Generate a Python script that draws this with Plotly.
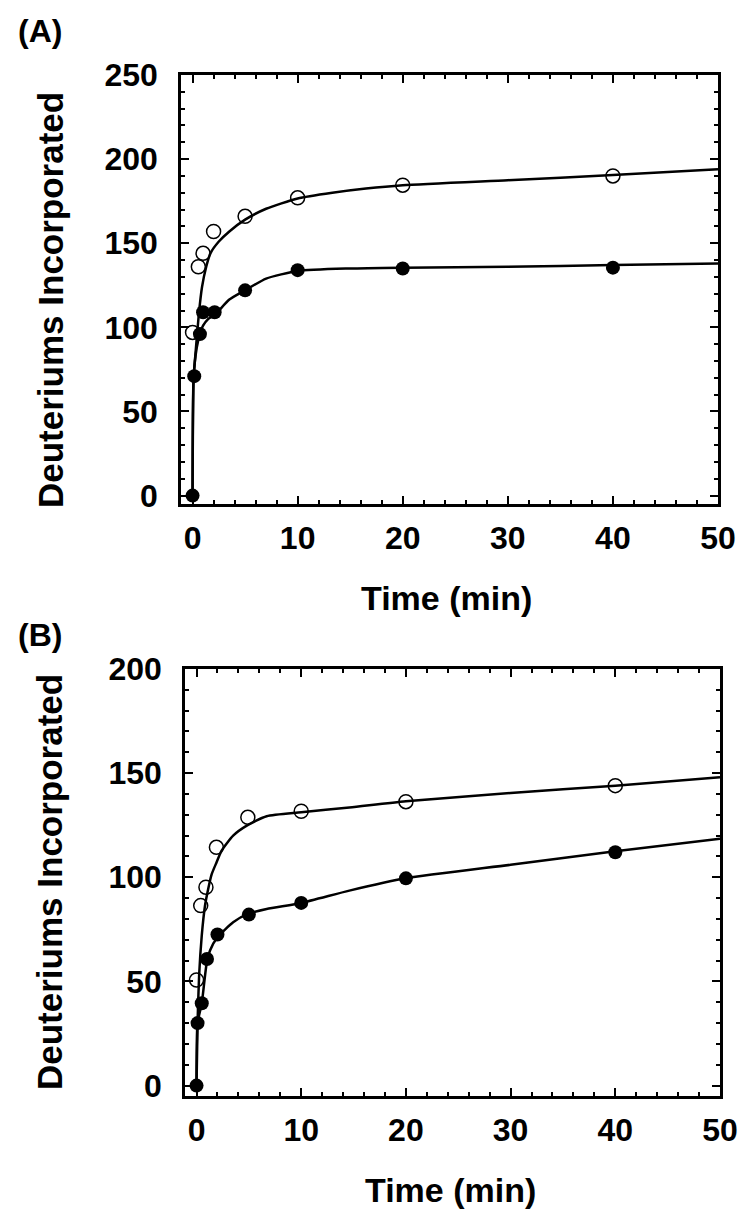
import plotly.graph_objects as go

# (A) measured points
time_a_open = [0, 0.55, 1, 2, 5, 10, 20, 40]
deut_a_open = [97, 136, 144, 157, 166, 177, 184.5, 190]
time_a_filled = [0, 0.16, 0.7, 1, 2.1, 5, 10, 20, 40]
deut_a_filled = [0, 71, 96, 109, 109, 122, 134, 135, 135.5]

# (A) fitted curves
fit_a_open_t = [0, 0.1, 0.3, 0.6, 0.9, 1.3, 1.7, 2.5, 3.5, 5, 7, 10, 13.3, 16.5, 20, 30, 40, 50]
fit_a_open_d = [0, 70, 86, 108, 124, 136, 144, 151, 157, 164, 170.5, 176.6, 180, 182.5, 184.5, 187.5, 190.5, 194]
fit_a_filled_t = [0, 0.1, 0.4, 0.7, 1.0, 1.5, 2.2, 3.5, 5, 7, 10, 15, 20, 30, 40, 50]
fit_a_filled_d = [0, 70, 88, 96, 101, 105, 108, 116.5, 122, 129, 133.5, 135, 135.5, 136, 137, 138]

# (B) measured points
time_b_open = [0, 0.4, 0.9, 1.9, 4.9, 10, 20, 40]
deut_b_open = [50.7, 86.4, 95.2, 114.4, 128.8, 131.7, 136.3, 144]
time_b_filled = [0, 0.1, 0.5, 1, 2, 5, 10, 20, 40]
deut_b_filled = [0, 30, 39.5, 60.8, 72.5, 82.1, 87.7, 99.5, 112]

# (B) fitted curves
fit_b_open_t = [0, 0.1, 0.25, 0.5, 0.8, 1.1, 1.45, 1.9, 2.4, 3.5, 4.8, 6.7, 10, 14.6, 20, 30, 40, 50]
fit_b_open_d = [0, 30, 53, 72, 86, 94, 101.5, 107, 112.8, 120, 124.8, 129.3, 131.2, 133.5, 136.5, 140.5, 144, 148]
fit_b_filled_t = [0, 0.1, 0.5, 0.95, 1.3, 2.0, 3.5, 4.9, 6.7, 10, 14.6, 20, 30, 40, 50]
fit_b_filled_d = [0, 30, 39.5, 58, 65, 71.2, 78.4, 82.4, 84.8, 87.7, 93.6, 99.5, 106, 112.5, 118.5]

x_ticks = [0, 10, 20, 30, 40, 50]
y_ticks_a = [0, 50, 100, 150, 200, 250]
y_ticks_b = [0, 50, 100, 150, 200]

FONT = "Liberation Sans, Arial, sans-serif"
W, H = 750, 1227
PAGE_OFFSET = 8  # the html body margin pushes the figure down/right by this much


def px_x(p):
    return (p - PAGE_OFFSET) / W


def px_y(p):
    return 1 - (p - PAGE_OFFSET) / H


def axis_style(tickvals, dtick_minor, rng, domain, anchor, standoff):
    return dict(
        range=rng, domain=domain, anchor=anchor,
        tickvals=tickvals, ticks="inside", ticklen=8, tickwidth=2, tickcolor="black",
        minor=dict(dtick=dtick_minor, tick0=0, ticks="inside", ticklen=4, tickwidth=1.5, tickcolor="black"),
        showline=True, linewidth=2.5, linecolor="black", mirror="ticks",
        showgrid=False, zeroline=False, ticklabelstandoff=standoff,
        tickfont=dict(family=FONT, size=32, color="black", weight="bold"),
    )


fig = go.Figure()


def add_panel(fig, xref, yref, fit_o, fit_f, pts_o, pts_f):
    for t, d in (fit_o, fit_f):
        fig.add_trace(go.Scatter(x=t, y=d, mode="lines", xaxis=xref, yaxis=yref,
                                 line=dict(color="black", width=2.5, shape="spline", smoothing=0.6),
                                 showlegend=False, hoverinfo="skip"))
    fig.add_trace(go.Scatter(x=pts_o[0], y=pts_o[1], mode="markers", xaxis=xref, yaxis=yref,
                             marker=dict(symbol="circle-open", size=14, color="black", line=dict(width=1.5)),
                             showlegend=False))
    fig.add_trace(go.Scatter(x=pts_f[0], y=pts_f[1], mode="markers", xaxis=xref, yaxis=yref,
                             marker=dict(symbol="circle", size=14, color="black"),
                             showlegend=False))


add_panel(fig, "x", "y", (fit_a_open_t, fit_a_open_d), (fit_a_filled_t, fit_a_filled_d),
          (time_a_open, deut_a_open), (time_a_filled, deut_a_filled))
add_panel(fig, "x2", "y2", (fit_b_open_t, fit_b_open_d), (fit_b_filled_t, fit_b_filled_d),
          (time_b_open, deut_b_open), (time_b_filled, deut_b_filled))

xa = axis_style(x_ticks, 2, [-1.1, 50], [px_x(181), px_x(718)], "y", 4)
ya = axis_style(y_ticks_a, 10, [-5, 250], [px_y(504), px_y(75)], "x", 14)
xb = axis_style(x_ticks, 2, [-1.1, 50], [px_x(185), px_x(720)], "y2", 4)
yb = axis_style(y_ticks_b, 10, [-5, 200], [px_y(1096), px_y(669)], "x2", 14)


def note(text, x, y, size, angle=0):
    return dict(text=text, x=px_x(x), y=px_y(y), xref="paper", yref="paper",
                xanchor="center", yanchor="middle", textangle=angle, showarrow=False,
                font=dict(family=FONT, size=size, color="black", weight="bold"))


annotations = [
    note("(A)", 40, 31, 32),
    note("(B)", 40, 635, 32),
    note("Deuteriums Incorporated", 50, 300, 35, -90),
    note("Deuteriums Incorporated", 50, 882, 35, -90),
    note("Time (min)", 446, 598, 34),
    note("Time (min)", 450, 1190, 34),
]

fig.update_layout(
    width=W, height=H, margin=dict(l=0, r=0, t=0, b=0, autoexpand=False),
    paper_bgcolor="white", plot_bgcolor="white",
    xaxis=xa, yaxis=ya, xaxis2=xb, yaxis2=yb,
    annotations=annotations,
)

fig.write_html("out.html")
